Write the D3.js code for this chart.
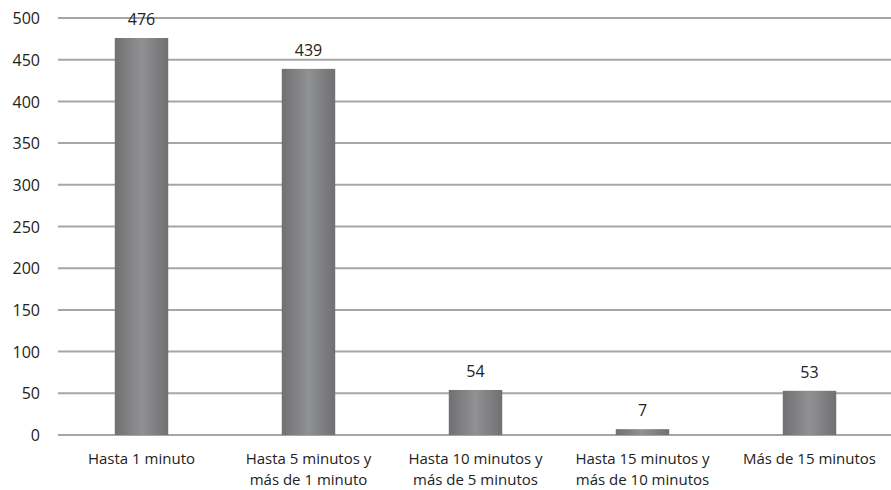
<!DOCTYPE html>
<html>
<head>
<meta charset="utf-8">
<script src="https://cdn.jsdelivr.net/npm/d3@7"></script>
<style>
  html, body { margin: 0; padding: 0; background: #fff; }
  svg text { font-family: "Open Sans", "Liberation Sans", sans-serif; fill: #222; }
</style>
</head>
<body>
<svg id="chart" width="891" height="490"></svg>
<script>
// Tiempo de espera: número de casos por intervalo
const categories = [
  ["Hasta 1 minuto"],
  ["Hasta 5 minutos y", "más de 1 minuto"],
  ["Hasta 10 minutos y", "más de 5 minutos"],
  ["Hasta 15 minutos y", "más de 10 minutos"],
  ["Más de 15 minutos"]
];
const values = [476, 439, 54, 7, 53];
const yTicks = [0, 50, 100, 150, 200, 250, 300, 350, 400, 450, 500];

const svg = d3.select("#chart");
const margin = { left: 58, right: -2, top: 18, bottom: 55 };
const width = 891, height = 490;
const fontSize = 16;
const catFontSize = 15;

const x = d3.scaleBand()
  .domain(d3.range(values.length))
  .range([margin.left, width - margin.right])
  .paddingInner(0.68)
  .paddingOuter(0.34);

const y = d3.scaleLinear()
  .domain([0, 500])
  .range([height - margin.bottom, margin.top]);

// Gradiente horizontal de las barras
const defs = svg.append("defs");
const grad = defs.append("linearGradient")
  .attr("id", "barGrad")
  .attr("x1", "0%").attr("x2", "100%").attr("y1", "0%").attr("y2", "0%");
grad.append("stop").attr("offset", "0%").attr("stop-color", "#707072");
grad.append("stop").attr("offset", "50%").attr("stop-color", "#909193");
grad.append("stop").attr("offset", "100%").attr("stop-color", "#707072");

// Líneas de cuadrícula
svg.append("g")
  .selectAll("line")
  .data(yTicks)
  .join("line")
  .attr("x1", margin.left)
  .attr("x2", width)
  .attr("y1", d => y(d))
  .attr("y2", d => y(d))
  .attr("stroke", "#a6a6a6")
  .attr("stroke-width", 2);

// Eje Y
const yAxis = svg.append("g")
  .attr("transform", `translate(${margin.left - 18},0)`)
  .call(d3.axisLeft(y).tickValues(yTicks).tickSize(0).tickPadding(0));
yAxis.select(".domain").remove();
yAxis.selectAll("text")
  .attr("font-size", fontSize)
  .attr("dy", "0.35em");

// Barras
svg.append("g")
  .selectAll("rect")
  .data(values)
  .join("rect")
  .attr("x", (d, i) => x(i))
  .attr("width", x.bandwidth())
  .attr("y", d => y(d))
  .attr("height", d => y(0) - y(d))
  .attr("fill", "url(#barGrad)");

// Etiquetas de valor
svg.append("g")
  .selectAll("text")
  .data(values)
  .join("text")
  .attr("x", (d, i) => x(i) + x.bandwidth() / 2)
  .attr("y", d => y(d) - 13)
  .attr("text-anchor", "middle")
  .attr("font-size", fontSize)
  .text(d => d);

// Etiquetas de categoría
const cat = svg.append("g")
  .selectAll("text")
  .data(categories)
  .join("text")
  .attr("x", (d, i) => x(i) + x.bandwidth() / 2)
  .attr("y", y(0) + 29)
  .attr("text-anchor", "middle")
  .attr("font-size", catFontSize);
cat.selectAll("tspan")
  .data(d => d)
  .join("tspan")
  .attr("x", function () { return d3.select(this.parentNode).attr("x"); })
  .attr("dy", (d, i) => i === 0 ? 0 : 21)
  .text(d => d);
</script>
</body>
</html>
